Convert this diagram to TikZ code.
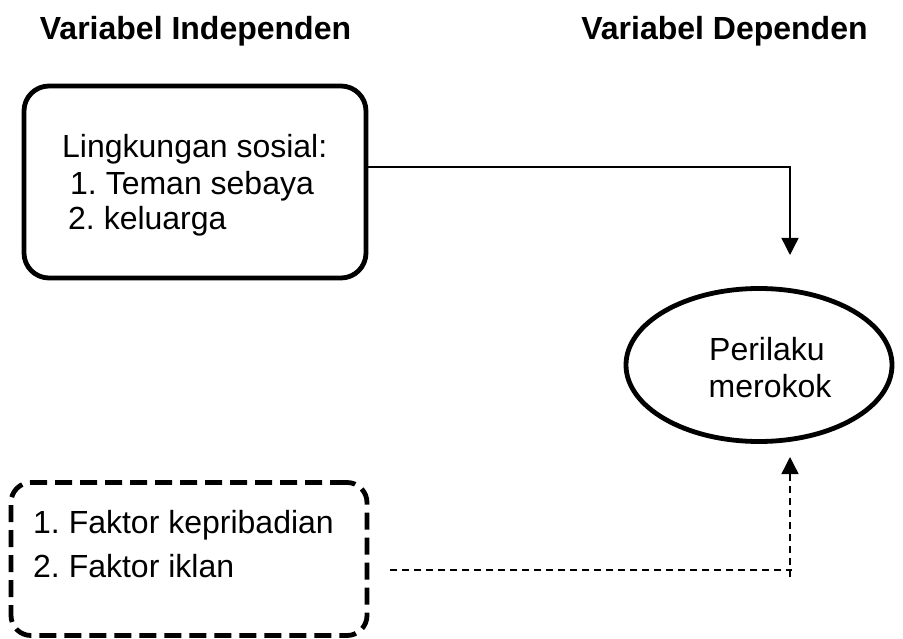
\documentclass[tikz,border=0pt]{standalone}
\usepackage{fontspec}
\setmainfont{Liberation Sans}
\frenchspacing
\usetikzlibrary{shapes.geometric,arrows.meta}
\begin{document}
\begin{tikzpicture}[x=1pt,y=1pt,
  txt/.style={inner sep=0pt,anchor=base west,font=\fontsize{32}{36}\selectfont},
  hdr/.style={inner sep=0pt,anchor=base,font=\fontsize{32}{36}\selectfont\bfseries},
  thickbox/.style={draw,line width=4.8pt,rounded corners=25pt},
  conn/.style={line width=1.4pt},
  tip/.style={-{Triangle[length=17pt,width=17pt]}}]
\useasboundingbox (0,0) rectangle (903,-639);
\node[hdr] (h1) at (195.5,-40) {Variabel Independen};
\node[hdr] (h2) at (724.5,-40) {Variabel Dependen};
% top box
\node[thickbox,minimum width=342pt,minimum height=192pt,inner sep=0pt] (box1) at (195,-182) {};
\node[txt] (l1) at (62,-158) {Lingkungan sosial:};
\node[txt] (l2) at (70,-195) {1. Teman sebaya};
\node[txt] (l3) at (68,-230) {2. keluarga};
% ellipse
\node[draw,ellipse,line width=4.8pt,minimum width=266pt,minimum height=153pt,inner sep=0pt] (ell) at (759,-365) {};
\node[inner sep=0pt,anchor=base,font=\fontsize{32}{36}\selectfont] (e1) at (767,-360) {Perilaku};
\node[inner sep=0pt,anchor=base,font=\fontsize{32}{36}\selectfont] (e2) at (770,-397) {merokok};
% dashed box
\node[draw,line width=4.8pt,rounded corners=20pt,dash pattern=on 17pt off 8pt,minimum width=356pt,minimum height=153pt,inner sep=0pt] (box2) at (189,-559) {};
\node[txt] (f1) at (33,-533) {1. Faktor kepribadian};
\node[txt] (f2) at (33,-577) {2. Faktor iklan};
% connectors
\coordinate (s1) at (box1.east |- 0,-167);
\coordinate (c1) at (790,-167);
\coordinate (t1) at (790,-255);
\draw[conn,tip] (s1) -- (c1) -- (t1);
\coordinate (s2) at (390,-570);
\coordinate (c2) at (792,-570);
\coordinate (b2) at (790,-577);
\coordinate (t2) at (790,-457);
\draw[conn,dash pattern=on 7pt off 5pt] (s2) -- (c2);
\draw[conn,dash pattern=on 7pt off 5pt,tip] (b2) -- (t2);
\end{tikzpicture}
\end{document}
